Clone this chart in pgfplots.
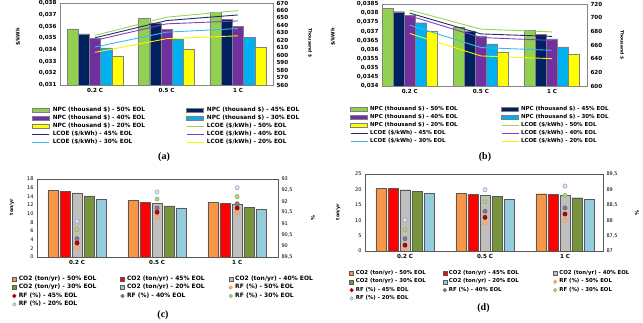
\documentclass[border=0pt]{standalone}
\usepackage{pgfplots}
\pgfplotsset{compat=1.18}
\usepackage{fontspec}
\setmainfont{DejaVu Sans}
\newfontfamily\capfont{Liberation Serif}
\definecolor{cG}{HTML}{92D050}
\definecolor{cN}{HTML}{002060}
\definecolor{cP}{HTML}{7030A0}
\definecolor{cB}{HTML}{00B0F0}
\definecolor{cY}{HTML}{FFFF00}
\definecolor{lG}{HTML}{9BD35A}
\definecolor{lN}{HTML}{1F2D6B}
\definecolor{lP}{HTML}{7F3FBF}
\definecolor{lB}{HTML}{3DB8F0}
\definecolor{lY}{HTML}{F5F500}
\definecolor{bO}{HTML}{F79646}
\definecolor{bR}{HTML}{FF0000}
\definecolor{bGy}{HTML}{BFBFBF}
\definecolor{bGr}{HTML}{77933C}
\definecolor{bLB}{HTML}{93CDDD}
\definecolor{mO}{HTML}{FAB07A}
\definecolor{mOe}{HTML}{F79646}
\definecolor{mR}{HTML}{C00000}
\definecolor{mRe}{HTML}{900000}
\definecolor{mGy}{HTML}{8C7A8A}
\definecolor{mGye}{HTML}{6A5A6A}
\definecolor{mGr}{HTML}{B5D08A}
\definecolor{mGre}{HTML}{8AB04A}
\definecolor{mLB}{HTML}{DCE6F2}
\definecolor{mLBe}{HTML}{7F9FC8}
\definecolor{frm}{HTML}{868686}
\definecolor{dfrm}{HTML}{595959}
\newcommand{\fs}[1]{\fontsize{#1}{#1}\selectfont}
\pgfplotsset{
  common/.style={scale only axis, anchor=south west, major tick length=0pt,
    /pgf/number format/assume math mode=true, /pgf/number format/use comma,
    scaled y ticks=false, xtick={0,1,2}},
  leg/.style={legend style={draw=none, fill=none, inner sep=0pt, row sep=0pt, column sep=0pt,
     anchor=north west, cells={anchor=west}, nodes={inner sep=0pt}}},
}
\begin{document}
\begin{tikzpicture}
\useasboundingbox (0,0) rectangle (643pt,322pt);
% ================= (a) =================
\begin{axis}[common, at={(60pt,237pt)}, width=213pt, height=82pt,
  xmin=-0.49, xmax=2.49, ymin=560, ymax=670, ytick={560,570,...,670},
  yticklabel pos=right, axis line style={frm},
  xticklabels={0.2 C,0.5 C,1 C},
  tick label style={font=\fs{5.6}\bfseries},
  every axis y label/.style={at={(axis description cs:1.174,0.51)}, anchor=center, rotate=-90, font=\fs{4.4}\bfseries},
  ylabel={Thousand \$}]
\addplot[ybar, bar width=11.2pt, bar shift=-22.4pt, fill=cG, draw=black!50] coordinates {(0,635.4) (1,649.6) (2,657.6)};
\addplot[ybar, bar width=11.2pt, bar shift=-11.2pt, fill=cN, draw=black!50] coordinates {(0,628.7) (1,643.4) (2,648.3)};
\addplot[ybar, bar width=11.2pt, bar shift=0pt, fill=cP, draw=black!50] coordinates {(0,622.5) (1,635.0) (2,639.0)};
\addplot[ybar, bar width=11.2pt, bar shift=11.2pt, fill=cB, draw=black!50] coordinates {(0,609.7) (1,620.8) (2,624.3)};
\addplot[ybar, bar width=11.2pt, bar shift=22.4pt, fill=cY, draw=black!50] coordinates {(0,598.6) (1,608.3) (2,610.6)};
\end{axis}
\begin{axis}[common, leg, at={(60pt,237pt)}, width=213pt, height=82pt,
  xmin=-0.49, xmax=2.49, ymin=0.031, ymax=0.038,
  ytick={0.031,0.032,0.033,0.034,0.035,0.036,0.037,0.038},
  hide x axis, axis y line*=left, axis line style={frm},
  y tick label style={/pgf/number format/fixed, /pgf/number format/precision=3, font=\fs{5.6}\bfseries},
  every axis y label/.style={at={(axis description cs:-0.197,0.585)}, anchor=center, rotate=90, font=\fs{5}\bfseries},
  ylabel={\$/kWh},
  legend columns=2,
  legend style={at={(-0.133,-0.256)}, font=\fs{5.8}\bfseries, nodes={text height=5.5pt, text depth=2.5pt}}]
\addlegendimage{legend image code/.code={\draw[fill=cG,draw=black!50,line width=0.4pt] (0pt,-1.8pt) rectangle (17pt,1.8pt); \path (20pt,0pt);}}
\addlegendentry{\makebox[133.3pt][l]{NPC (thousand \$) - 50\% EOL}}
\addlegendimage{legend image code/.code={\draw[fill=cN,draw=black!50,line width=0.4pt] (0pt,-1.8pt) rectangle (17pt,1.8pt); \path (20pt,0pt);}}
\addlegendentry{NPC (thousand \$) - 45\% EOL}
\addlegendimage{legend image code/.code={\draw[fill=cP,draw=black!50,line width=0.4pt] (0pt,-1.8pt) rectangle (17pt,1.8pt); \path (20pt,0pt);}}
\addlegendentry{\makebox[133.3pt][l]{NPC (thousand \$) - 40\% EOL}}
\addlegendimage{legend image code/.code={\draw[fill=cB,draw=black!50,line width=0.4pt] (0pt,-1.8pt) rectangle (17pt,1.8pt); \path (20pt,0pt);}}
\addlegendentry{NPC (thousand \$) - 30\% EOL}
\addlegendimage{legend image code/.code={\draw[fill=cY,draw=black!50,line width=0.4pt] (0pt,-1.8pt) rectangle (17pt,1.8pt); \path (20pt,0pt);}}
\addlegendentry{\makebox[133.3pt][l]{NPC (thousand \$) - 20\% EOL}}
\addplot[lG, line width=0.9pt, legend image code/.code={\draw[lG,line width=0.9pt] (0pt,0pt) -- (17pt,0pt); \path (20pt,0pt);}] coordinates {(0,0.03523) (1,0.03679) (2,0.03735)};
\addlegendentry{LCOE (\$/kWh) - 50\% EOL}
\addplot[lN, line width=0.9pt, legend image code/.code={\draw[lN,line width=0.9pt] (0pt,0pt) -- (17pt,0pt); \path (20pt,0pt);}] coordinates {(0,0.03503) (1,0.03650) (2,0.03698)};
\addlegendentry{\makebox[133.3pt][l]{LCOE (\$/kWh) - 45\% EOL}}
\addplot[lP, line width=0.9pt, legend image code/.code={\draw[lP,line width=0.9pt] (0pt,0pt) -- (17pt,0pt); \path (20pt,0pt);}] coordinates {(0,0.03481) (1,0.03622) (2,0.03647)};
\addlegendentry{LCOE (\$/kWh) - 40\% EOL}
\addplot[lB, line width=0.9pt, legend image code/.code={\draw[lB,line width=0.9pt] (0pt,0pt) -- (17pt,0pt); \path (20pt,0pt);}] coordinates {(0,0.03424) (1,0.03551) (2,0.03582)};
\addlegendentry{\makebox[133.3pt][l]{LCOE (\$/kWh) - 30\% EOL}}
\addplot[lY, line width=0.9pt, legend image code/.code={\draw[lY,line width=0.9pt] (0pt,0pt) -- (17pt,0pt); \path (20pt,0pt);}] coordinates {(0,0.03379) (1,0.03495) (2,0.03520)};
\addlegendentry{LCOE (\$/kWh) - 20\% EOL}
\end{axis}
% ================= (b) =================
\begin{axis}[common, at={(382pt,236pt)}, width=205pt, height=82pt,
  xmin=-0.39, xmax=2.49, ymin=600, ymax=720, ytick={600,620,...,720},
  yticklabel pos=right, axis line style={frm},
  xticklabels={0.2 C,0.5 C,1 C},
  tick label style={font=\fs{5.6}\bfseries},
  every axis y label/.style={at={(axis description cs:1.171,0.5)}, anchor=center, rotate=-90, font=\fs{4.4}\bfseries},
  ylabel={Thousand \$}]
\addplot[ybar, bar width=11pt, bar shift=-22pt, fill=cG, draw=black!50] coordinates {(0,713.6) (1,686.7) (2,681.8)};
\addplot[ybar, bar width=11pt, bar shift=-11pt, fill=cN, draw=black!50] coordinates {(0,708.7) (1,680.8) (2,675.9)};
\addplot[ybar, bar width=11pt, bar shift=0pt, fill=cP, draw=black!50] coordinates {(0,703.8) (1,673.5) (2,669.0)};
\addplot[ybar, bar width=11pt, bar shift=11pt, fill=cB, draw=black!50] coordinates {(0,692.6) (1,661.7) (2,657.3)};
\addplot[ybar, bar width=11pt, bar shift=22pt, fill=cY, draw=black!50] coordinates {(0,680.8) (1,649.5) (2,646.0)};
\end{axis}
\begin{axis}[common, leg, at={(382pt,236pt)}, width=205pt, height=82pt,
  xmin=-0.39, xmax=2.49, ymin=0.034, ymax=0.0385,
  ytick={0.034,0.0345,0.035,0.0355,0.036,0.0365,0.037,0.0375,0.038,0.0385},
  hide x axis, axis y line*=left, axis line style={frm},
  y tick label style={/pgf/number format/fixed, /pgf/number format/precision=4, font=\fs{5.6}\bfseries},
  every axis y label/.style={at={(axis description cs:-0.239,0.6)}, anchor=center, rotate=90, font=\fs{5}\bfseries},
  ylabel={\$/kWh},
  legend columns=2,
  legend style={at={(-0.156,-0.232)}, font=\fs{5.5}\bfseries, nodes={text height=5.5pt, text depth=2.5pt}}]
\addlegendimage{legend image code/.code={\draw[fill=cG,draw=black!50,line width=0.4pt] (0pt,-1.8pt) rectangle (17pt,1.8pt); \path (19pt,0pt);}}
\addlegendentry{\makebox[131pt][l]{NPC (thousand \$) - 50\% EOL}}
\addlegendimage{legend image code/.code={\draw[fill=cN,draw=black!50,line width=0.4pt] (0pt,-1.8pt) rectangle (17pt,1.8pt); \path (19pt,0pt);}}
\addlegendentry{NPC (thousand \$) - 45\% EOL}
\addlegendimage{legend image code/.code={\draw[fill=cP,draw=black!50,line width=0.4pt] (0pt,-1.8pt) rectangle (17pt,1.8pt); \path (19pt,0pt);}}
\addlegendentry{\makebox[131pt][l]{NPC (thousand \$) - 40\% EOL}}
\addlegendimage{legend image code/.code={\draw[fill=cB,draw=black!50,line width=0.4pt] (0pt,-1.8pt) rectangle (17pt,1.8pt); \path (19pt,0pt);}}
\addlegendentry{NPC (thousand \$) - 30\% EOL}
\addlegendimage{legend image code/.code={\draw[fill=cY,draw=black!50,line width=0.4pt] (0pt,-1.8pt) rectangle (17pt,1.8pt); \path (19pt,0pt);}}
\addlegendentry{\makebox[131pt][l]{NPC (thousand \$) - 20\% EOL}}
\addplot[lG, line width=0.9pt, legend image code/.code={\draw[lG,line width=0.9pt] (0pt,0pt) -- (17pt,0pt); \path (19pt,0pt);}] coordinates {(0,0.03817) (1,0.03712) (2,0.03697)};
\addlegendentry{LCOE (\$/kWh) - 50\% EOL}
\addplot[lN, line width=0.9pt, legend image code/.code={\draw[lN,line width=0.9pt] (0pt,0pt) -- (17pt,0pt); \path (19pt,0pt);}] coordinates {(0,0.03800) (1,0.03686) (2,0.03672)};
\addlegendentry{\makebox[131pt][l]{LCOE (\$/kWh) - 45\% EOL}}
\addplot[lP, line width=0.9pt, legend image code/.code={\draw[lP,line width=0.9pt] (0pt,0pt) -- (17pt,0pt); \path (19pt,0pt);}] coordinates {(0,0.03785) (1,0.03666) (2,0.03650)};
\addlegendentry{LCOE (\$/kWh) - 40\% EOL}
\addplot[lB, line width=0.9pt, legend image code/.code={\draw[lB,line width=0.9pt] (0pt,0pt) -- (17pt,0pt); \path (19pt,0pt);}] coordinates {(0,0.03734) (1,0.03611) (2,0.03596)};
\addlegendentry{\makebox[131pt][l]{LCOE (\$/kWh) - 30\% EOL}}
\addplot[lY, line width=0.9pt, legend image code/.code={\draw[lY,line width=0.9pt] (0pt,0pt) -- (17pt,0pt); \path (19pt,0pt);}] coordinates {(0,0.03688) (1,0.03565) (2,0.03550)};
\addlegendentry{LCOE (\$/kWh) - 20\% EOL}
\end{axis}
% ================= (c) =================
\begin{axis}[common, at={(37pt,65pt)}, width=241pt, height=78pt,
  xmin=-0.5, xmax=2.51, ymin=0, ymax=18, ytick={0,2,...,18},
  axis line style={dfrm},
  xticklabels={0.2 C,0.5 C,1 C},
  x tick label style={font=\fs{5.6}\bfseries}, y tick label style={font=\fs{5}},
  every axis y label/.style={at={(axis description cs:-0.104,0.64)}, anchor=center, rotate=90, font=\fs{4.8}\bfseries},
  ylabel={ton/yr}]
\addplot[ybar, bar width=10.5pt, bar shift=-24pt, fill=bO, draw=dfrm] coordinates {(0,15.46) (1,13.08) (2,12.69)};
\addplot[ybar, bar width=10.5pt, bar shift=-12pt, fill=bR, draw=dfrm] coordinates {(0,15.15) (1,12.69) (2,12.31)};
\addplot[ybar, bar width=10.5pt, bar shift=0pt, fill=bGy, draw=dfrm] coordinates {(0,14.77) (1,12.38) (2,12.08)};
\addplot[ybar, bar width=10.5pt, bar shift=12pt, fill=bGr, draw=dfrm] coordinates {(0,14.08) (1,11.77) (2,11.46)};
\addplot[ybar, bar width=10.5pt, bar shift=24pt, fill=bLB, draw=dfrm] coordinates {(0,13.38) (1,11.31) (2,11.00)};
\end{axis}
\begin{axis}[common, leg, at={(37pt,65pt)}, width=241pt, height=78pt,
  xmin=-0.5, xmax=2.51, ymin=89.5, ymax=93, ytick={89.5,90,...,93},
  hide x axis, axis y line*=right, axis line style={dfrm},
  y tick label style={/pgf/number format/fixed, /pgf/number format/precision=1, font=\fs{5}},
  every axis y label/.style={at={(axis description cs:1.145,0.5)}, anchor=center, rotate=-90, font=\fs{5}\bfseries},
  ylabel={\%},
  legend columns=3,
  legend style={at={(-0.104,-0.228)}, font=\fs{6}\bfseries, nodes={text height=5.6pt, text depth=2.8pt}}]
\addlegendimage{legend image code/.code={\draw[fill=bO,draw=dfrm,line width=0.4pt] (0pt,-2pt) rectangle (4pt,2pt); \path (6.3pt,0pt);}}
\addlegendentry{\makebox[101.5pt][l]{CO2 (ton/yr) - 50\% EOL}}
\addlegendimage{legend image code/.code={\draw[fill=bR,draw=dfrm,line width=0.4pt] (0pt,-2pt) rectangle (4pt,2pt); \path (6.3pt,0pt);}}
\addlegendentry{\makebox[101.5pt][l]{CO2 (ton/yr) - 45\% EOL}}
\addlegendimage{legend image code/.code={\draw[fill=bGy,draw=dfrm,line width=0.4pt] (0pt,-2pt) rectangle (4pt,2pt); \path (6.3pt,0pt);}}
\addlegendentry{CO2 (ton/yr) - 40\% EOL}
\addlegendimage{legend image code/.code={\draw[fill=bGr,draw=dfrm,line width=0.4pt] (0pt,-2pt) rectangle (4pt,2pt); \path (6.3pt,0pt);}}
\addlegendentry{\makebox[101.5pt][l]{CO2 (ton/yr) - 30\% EOL}}
\addlegendimage{legend image code/.code={\draw[fill=bLB,draw=dfrm,line width=0.4pt] (0pt,-2pt) rectangle (4pt,2pt); \path (6.3pt,0pt);}}
\addlegendentry{\makebox[101.5pt][l]{CO2 (ton/yr) - 20\% EOL}}
\addplot[only marks, mark=*, mark size=2.1pt, mark options={fill=mO, draw=mOe, line width=0.5pt}, legend image code/.code={\draw[fill=mO,draw=mOe,line width=0.5pt] (2pt,0pt) circle (1.8pt); \path (6.3pt,0pt);}] coordinates {(0,89.94) (1,91.30) (2,91.49)};
\addlegendentry{RF (\%) - 50\% EOL}
\addplot[only marks, mark=*, mark size=2.1pt, mark options={fill=mR, draw=mRe, line width=0.5pt}, legend image code/.code={\draw[fill=mR,draw=mRe,line width=0.5pt] (2pt,0pt) circle (1.8pt); \path (6.3pt,0pt);}] coordinates {(0,90.13) (1,91.51) (2,91.70)};
\addlegendentry{\makebox[101.5pt][l]{RF (\%) - 45\% EOL}}
\addplot[only marks, mark=*, mark size=2.1pt, mark options={fill=mGy, draw=mGye, line width=0.5pt}, legend image code/.code={\draw[fill=mGy,draw=mGye,line width=0.5pt] (2pt,0pt) circle (1.8pt); \path (6.3pt,0pt);}] coordinates {(0,90.32) (1,91.70) (2,91.89)};
\addlegendentry{\makebox[101.5pt][l]{RF (\%) - 40\% EOL}}
\addplot[only marks, mark=*, mark size=2.1pt, mark options={fill=mGr, draw=mGre, line width=0.5pt}, legend image code/.code={\draw[fill=mGr,draw=mGre,line width=0.5pt] (2pt,0pt) circle (1.8pt); \path (6.3pt,0pt);}] coordinates {(0,90.73) (1,92.10) (2,92.21)};
\addlegendentry{RF (\%) - 30\% EOL}
\addplot[only marks, mark=*, mark size=2.1pt, mark options={fill=mLB, draw=mLBe, line width=0.5pt}, legend image code/.code={\draw[fill=mLB,draw=mLBe,line width=0.5pt] (2pt,0pt) circle (1.8pt); \path (6.3pt,0pt);}] coordinates {(0,91.10) (1,92.42) (2,92.61)};
\addlegendentry{\makebox[101.5pt][l]{RF (\%) - 20\% EOL}}
\end{axis}
% ================= (d) =================
\begin{axis}[common, at={(365pt,71pt)}, width=238pt, height=77pt,
  xmin=-0.5, xmax=2.475, ymin=0, ymax=25, ytick={0,5,...,25},
  axis line style={dfrm},
  xticklabels={0.2 C,0.5 C,1 C},
  x tick label style={font=\fs{5.6}\bfseries}, y tick label style={font=\fs{5}},
  every axis y label/.style={at={(axis description cs:-0.113,0.506)}, anchor=center, rotate=90, font=\fs{4.8}\bfseries},
  ylabel={ton/yr}]
\addplot[ybar, bar width=10.5pt, bar shift=-24pt, fill=bO, draw=dfrm] coordinates {(0,20.45) (1,18.83) (2,18.60)};
\addplot[ybar, bar width=10.5pt, bar shift=-12pt, fill=bR, draw=dfrm] coordinates {(0,20.24) (1,18.50) (2,18.40)};
\addplot[ybar, bar width=10.5pt, bar shift=0pt, fill=bGy, draw=dfrm] coordinates {(0,19.90) (1,18.18) (2,18.07)};
\addplot[ybar, bar width=10.5pt, bar shift=12pt, fill=bGr, draw=dfrm] coordinates {(0,19.37) (1,17.64) (2,17.30)};
\addplot[ybar, bar width=10.5pt, bar shift=24pt, fill=bLB, draw=dfrm] coordinates {(0,18.83) (1,16.88) (2,16.77)};
\end{axis}
\begin{axis}[common, leg, at={(365pt,71pt)}, width=238pt, height=77pt,
  xmin=-0.5, xmax=2.475, ymin=87, ymax=89.5, ytick={87,87.5,...,89.5},
  hide x axis, axis y line*=right, axis line style={dfrm},
  y tick label style={/pgf/number format/fixed, /pgf/number format/precision=1, font=\fs{5}},
  every axis y label/.style={at={(axis description cs:1.143,0.49)}, anchor=center, rotate=-90, font=\fs{5}\bfseries},
  ylabel={\%},
  legend columns=3,
  legend style={at={(-0.066,-0.236)}, font=\fs{5.4}\bfseries, nodes={text height=5.3pt, text depth=3pt}}]
\addlegendimage{legend image code/.code={\draw[fill=bO,draw=dfrm,line width=0.4pt] (0pt,-2pt) rectangle (4pt,2pt); \path (6pt,0pt);}}
\addlegendentry{\makebox[86.7pt][l]{CO2 (ton/yr) - 50\% EOL}}
\addlegendimage{legend image code/.code={\draw[fill=bR,draw=dfrm,line width=0.4pt] (0pt,-2pt) rectangle (4pt,2pt); \path (6pt,0pt);}}
\addlegendentry{\makebox[104pt][l]{CO2 (ton/yr) - 45\% EOL}}
\addlegendimage{legend image code/.code={\draw[fill=bGy,draw=dfrm,line width=0.4pt] (0pt,-2pt) rectangle (4pt,2pt); \path (6pt,0pt);}}
\addlegendentry{CO2 (ton/yr) - 40\% EOL}
\addlegendimage{legend image code/.code={\draw[fill=bGr,draw=dfrm,line width=0.4pt] (0pt,-2pt) rectangle (4pt,2pt); \path (6pt,0pt);}}
\addlegendentry{\makebox[86.7pt][l]{CO2 (ton/yr) - 30\% EOL}}
\addlegendimage{legend image code/.code={\draw[fill=bLB,draw=dfrm,line width=0.4pt] (0pt,-2pt) rectangle (4pt,2pt); \path (6pt,0pt);}}
\addlegendentry{\makebox[104pt][l]{CO2 (ton/yr) - 20\% EOL}}
\addplot[only marks, mark=*, mark size=2.1pt, mark options={fill=mO, draw=mOe, line width=0.5pt}, legend image code/.code={\draw[fill=mO,draw=mOe,line width=0.5pt] (2pt,0pt) circle (1.8pt); \path (6pt,0pt);}] coordinates {(0,87.08) (1,87.91) (2,88.00)};
\addlegendentry{RF (\%) - 50\% EOL}
\addplot[only marks, mark=*, mark size=2.1pt, mark options={fill=mR, draw=mRe, line width=0.5pt}, legend image code/.code={\draw[fill=mR,draw=mRe,line width=0.5pt] (2pt,0pt) circle (1.8pt); \path (6pt,0pt);}] coordinates {(0,87.19) (1,88.09) (2,88.20)};
\addlegendentry{\makebox[86.7pt][l]{RF (\%) - 45\% EOL}}
\addplot[only marks, mark=*, mark size=2.1pt, mark options={fill=mGy, draw=mGye, line width=0.5pt}, legend image code/.code={\draw[fill=mGy,draw=mGye,line width=0.5pt] (2pt,0pt) circle (1.8pt); \path (6pt,0pt);}] coordinates {(0,87.40) (1,88.29) (2,88.40)};
\addlegendentry{\makebox[104pt][l]{RF (\%) - 40\% EOL}}
\addplot[only marks, mark=*, mark size=2.1pt, mark options={fill=mGr, draw=mGre, line width=0.5pt}, legend image code/.code={\draw[fill=mGr,draw=mGre,line width=0.5pt] (2pt,0pt) circle (1.8pt); \path (6pt,0pt);}] coordinates {(0,87.69) (1,88.60) (2,88.81)};
\addlegendentry{RF (\%) - 30\% EOL}
\addplot[only marks, mark=*, mark size=2.1pt, mark options={fill=mLB, draw=mLBe, line width=0.5pt}, legend image code/.code={\draw[fill=mLB,draw=mLBe,line width=0.5pt] (2pt,0pt) circle (1.8pt); \path (6pt,0pt);}] coordinates {(0,88.01) (1,88.99) (2,89.11)};
\addlegendentry{\makebox[86.7pt][l]{RF (\%) - 20\% EOL}}
\end{axis}
% captions
\node[font=\capfont\bfseries\fs{10}] at (164pt,165pt) {(a)};
\node[font=\capfont\bfseries\fs{10}] at (485pt,165.3pt) {(b)};
\node[font=\capfont\bfseries\fs{10}] at (163pt,7pt) {(c)};
\node[font=\capfont\bfseries\fs{10}] at (483.5pt,14.3pt) {(d)};
\end{tikzpicture}
\end{document}
